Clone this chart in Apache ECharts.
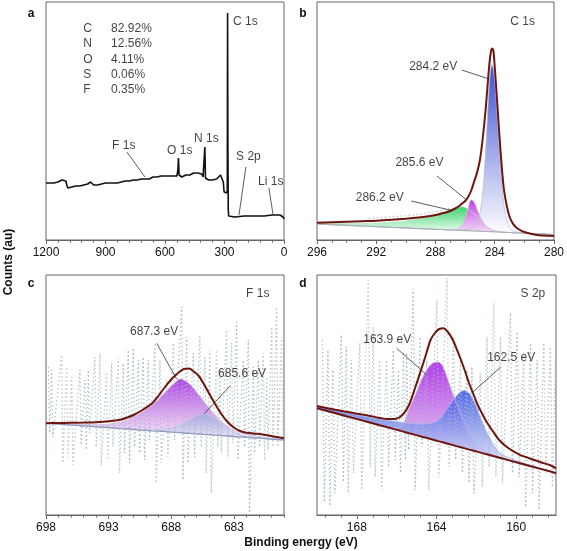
<!DOCTYPE html>
<html><head><meta charset="utf-8">
<script src="https://cdn.jsdelivr.net/npm/echarts@6/dist/echarts.min.js"></script>
<style>html,body{margin:0;padding:0;background:#fff}#c{width:567px;height:551px}</style>
</head><body><div id="c"></div>
<script>
// ---------- Panel a: survey ----------
const aE = [1200,1190,1180,1170,1160,1150,1140,1130,1120,1110,
 1100,1095,1090,1080,1070,1060,1050,1040,1030,1020,
 1010,1000,990,985,980,975,970,960,950,940,
 930,920,910,900,890,880,870,860,850,840,
 830,820,810,800,790,780,770,760,750,740,
 730,720,710,700,690,680,670,660,650,640,
 630,620,610,600,590,580,570,560,550,540,
 535,532,529,525,515,505,495,485,475,465,
 455,445,435,425,415,408,402,399,396,390,
 380,370,360,350,340,330,320,312,306,302,
 296,292,288,286,284.5,283,281,279,270,250,
 200,150,100,60,40,20,10,5,0];
const aCounts = [57,58,57,58,57,58,58,59,60,61,
 59,55,52,52,53,53,54,53,54,54,
 55,55,56,58,57,58,56,55,56,55,
 56,56,56,57,56,57,57,57,58,57,
 58,58,58,59,58,59,59,60,59,60,
 60,61,61,61,62,61,62,63,62,63,
 63,64,63,64,64,64,65,64,65,64,
 70,82,65,64,63,64,65,64,65,66,
 67,66,67,67,66,63,62,93,62,61,
 60,59,60,60,61,63,65,67,58,48,
 46,47,47,50,227,100,30,24,24,23,
 24,24,24,25,25,25,24,23,21];
const aNotes = [['C',1013,211],['82.92%',872,211],['N',1013,196],['12.56%',872,196],
 ['O',1013,180],['4.11%',872,180],['S',1013,165],['0.06%',872,165],['F',1013,150],['0.35%',872,150],
 ['C 1s',257,218],['F 1s',867,94],['O 1s',590,89],['N 1s',454,101],['S 2p',242,83],['Li 1s',131,58]];
const aArrows = [[[792,88],[701,63]],[[192,73],[227,25]],[[76,52],[55,25]]];

// ---------- Panel b: C 1s ----------
const bE = [296,295,294,293,292,291,290,289.5,289,288.5,288,287.6,287.2,286.8,286.4,286.2,286.0,285.8,285.6,285.4,285.2,285.0,284.8,284.6,284.4,284.3,284.2,284.1,284.0,283.9,283.8,283.6,283.4,283.2,283.0,282.8,282.6,282.3,282.0,281.5,281.0,280.5,280];
const bBase = [16.0,15.3,14.7,14.0,13.4,12.7,12.1,11.7,11.4,11.1,10.7,10.5,10.2,10.0,9.7,9.6,9.4,9.3,9.2,9.0,8.9,8.8,8.6,8.5,8.4,8.3,8.3,8.2,8.2,8.1,8.0,7.9,7.7,7.6,7.5,7.3,7.2,7.0,6.8,6.5,6.2,5.8,5.5];
const bBlue = [0,0,0,0,0,0,0,0,0,0,0,0,0,0,0,0.5,1,1.5,2.5,4,8,18,40,85,140,158,167,163,150,130,108,62,30,13,5,2,1,0,0,0,0,0,0];
const bGreen = [1,1.5,2,2.5,3.5,5,7,8.5,10,12,14.5,16.5,19,21.5,23.3,23.7,23,21.5,19.5,17,14.5,11.5,8.5,6,4,3.2,2.5,2,1.5,1.1,0.8,0.4,0.2,0,0,0,0,0,0,0,0,0,0];
const bPink = [0,0,0,0,0,0,0,0,0,0,0,0,0,0.3,2,5,12,22,31,29,22,15,9.5,5.5,3,2.2,1.6,1.2,0.8,0.5,0.3,0.1,0,0,0,0,0,0,0,0,0,0,0];
const bEnv = [17.3,17.8,18.3,18.8,19.3,20.3,21.3,22,22.7,23.8,25,26.5,28,30.5,34,36.5,39,43,49,58,67,80,103,133,170,184,191.5,190,173,152,130,87,53,35,23.3,17,13.3,10,8,6,4.7,4.3,4];
const bRawE = [292.5,292,291.5,291,290.5,290,289.5,289,288.5,288,287.5,287];
const bRaw = [21.5,22,22.5,23,23.8,24.3,25,25.8,27,28.2,30,31.5];
const bNotes = [['C 1s',282.95,218],['284.2 eV',289.78,173],['285.6 eV',290.71,77],['286.2 eV',293.39,42]];
const bArrows = [[[286.23,170],[284.37,161]],[[287.9,64],[285.89,40]],[[289.64,39],[287.03,30]]];

// ---------- Panel c: F 1s ----------
const cE = [698,697,696,695,694,693,692,691.5,691,690.5,690,689.5,689,688.5,688,687.6,687.3,687,686.6,686.2,685.8,685.4,685,684.5,684,683.5,683,682.5,682,681,680,679];
const cBase = [90.7,89.8,88.9,88.1,87.2,86.3,85.4,85.0,84.5,84.1,83.7,83.2,82.8,82.4,81.9,81.6,81.3,81.0,80.7,80.3,80.0,79.6,79.3,78.8,78.4,78.0,77.5,77.1,76.6,75.8,74.9,74.0];
const cEnv = [90.7,91,91.2,91.4,91.8,92.7,94.5,96.5,99,102.5,106.5,111,118.5,127,134.5,139.5,142.5,145,145.5,142.5,138,130,121,110,100,92,86.5,83,81.3,80,78,75.7];
const cPink = [0.3,0.5,0.8,1.2,2,3.5,6.5,9,12.5,16.5,21,26,32,39,46,51,53.7,53,50,45,39,33,27,20,14,9.5,6.5,4.5,3.2,1.7,1,0.6];
const cBlue = [0,0,0,0,0,0,0,0,0,0,0,0.5,1.2,2.5,4,6,7.5,9.5,12.5,16,19,20.2,19.5,16.5,12,7.5,4,2,1,0.2,0,0];
const cRaw = [[697.81,147],[697.71,81],[697.55,144],[697.45,77],[696.75,159],[696.65,51],[696.35,147],[696.25,57],
 [695.95,137],[695.85,49],[695.29,144],[695.19,69],[694.89,134],[694.79,64],[694.62,144],[694.52,81],
 [694.09,157],[693.99,67],[693.69,161],[693.59,49],[693.16,142],[693.06,54],[692.76,151],[692.66,67],
 [692.23,156],[692.13,41],[691.83,151],[691.73,61],[691.43,164],[691.33,51],[691.03,166],[690.93,67],
 [690.63,154],[690.53,61],[690.23,157],[690.13,54],[689.83,154],[689.73,74],[689.30,171],[689.20,31],
 [688.90,154],[688.80,51],[688.37,134],[688.27,57],[687.83,171],[687.73,74],[687.17,207],[687.07,34],
 [686.77,177],[686.67,51],[686.24,161],[686.14,57],[685.71,179],[685.61,67],[685.31,157],[685.21,41],
 [684.91,164],[684.81,21],[684.38,164],[684.28,67],[684.11,144],[684.01,61],[683.58,184],[683.48,57],
 [683.18,171],[683.08,71],[682.78,192],[682.68,54],[682.25,154],[682.15,67],[681.85,174],[681.75,1],
 [681.45,147],[681.35,61],[681.05,154],[680.95,67],[680.65,161],[680.55,54],[680.38,137],[680.28,64],
 [679.98,187],[679.88,67],[679.59,207],[679.49,67],[679.19,177],[679.09,77]];
const cTicks = [683,688,693,698];
const cMinor = [679,680,681,682,684,685,686,687,689,690,691,692,694,695,696,697];
const cNotes = [['F 1s',682.03,220],['687.3 eV',691.29,182],['685.6 eV',684.27,140]];
const cArrows = [[[689.16,170.7],[687.57,135]],[[683.31,128],[685.39,100]]];

// ---------- Panel d: S 2p ----------
const dE = [170,169.07,168.53,167.98,167.44,166.9,166.47,166.03,165.71,165.38,165.06,164.73,164.51,164.3,164.08,163.86,163.65,163.43,163.21,163.0,162.78,162.57,162.35,162.13,161.92,161.7,161.48,161.16,160.83,160.4,159.86,159.31,158.77,158.23,158];
const dBase = [105.7,100.8,97.8,94.9,92.0,89.0,86.7,84.4,82.6,80.8,79.1,77.3,76.2,75.0,73.8,72.6,71.5,70.3,69.1,67.9,66.8,65.6,64.4,63.3,62.1,60.9,59.8,58.0,56.2,53.9,51.0,48.0,45.1,42.2,40.7];
const dEnv = [108,104.2,102.3,100.3,98.5,96.3,94.9,95.3,99,109,127,146.7,160.7,174,181,185,185.7,182,175.2,165.7,154.5,143,130,119,108.5,100,92,82.5,73.5,66,59.7,55.5,51.8,48.3,45.7];
const dPurple = [0,0,0,0,0,0,0.3,1.5,6,24,40,58,67,74,78,79,75,64,53,43,33,24,16,10.5,6.5,4,2.5,1.5,0.7,0.2,0,0,0,0,0];
const dBlue = [2,3,3.5,4,5,6,7,8,9,10,11,12.5,14,16,18,22,28,36,43,50,55.5,58,56,50,41,31,22,12,5,2.5,1.5,1,0.6,0.3,0.2];
const dRaw = [[169.73,174],[169.63,12],[169.45,164],[169.35,8],[169.20,144],[169.10,21],[168.78,179],[168.68,32],
 [168.53,167],[168.43,21],[168.27,154],[168.17,41],[167.85,171],[167.75,24],[167.43,234],[167.33,47],
 [167.18,187],[167.08,37],[166.85,154],[166.75,24],[166.51,154],[166.41,47],[166.17,164],[166.07,54],
 [165.91,144],[165.81,41],[165.66,162],[165.56,54],[165.50,161],[165.40,64],[165.17,225],[165.07,24],
 [164.83,177],[164.73,67],[164.49,154],[164.39,24],[163.98,214],[163.88,37],[163.47,236],[163.37,47],
 [163.14,177],[163.04,54],[162.80,154],[162.70,41],[162.47,144],[162.37,31],[162.22,147],[162.12,21],
 [161.80,141],[161.70,27],[161.46,177],[161.36,47],[161.12,211],[161.02,37],[160.79,177],[160.69,31],
 [160.29,201],[160.19,41],[159.95,182],[159.85,37],[159.62,161],[159.52,7],[159.28,171],[159.18,21],
 [158.95,154],[158.85,4],[158.61,171],[158.51,41],[158.28,167],[158.18,27],[158.03,154],[158.0,47]];
const dTicks = [160,164,168];
const dMinor = [158.4,159.2,160.8,161.6,162.4,163.2,164.8,165.6,166.4,167.2,168.8,169.6];
const dNotes = [['S 2p',159.78,220],['163.9 eV',167.68,174],['162.5 eV',161.46,156]];
const dArrows = [[[166.0,165.7],[164.48,139]],[[160.79,146.7],[162.21,121.3]]];

// ---------- build ----------
const FONT = '"Liberation Sans", Arial, sans-serif';
const AX = '#666';
const ENV = '#6e1510';
const RAW = '#a9bcc1';
const pairs = (xs, ys) => xs.map((x, i) => [x, ys[i]]);
// y first so that the stack is applied to the y (counts) dimension
const ypairs = (xs, ys) => xs.map((x, i) => [ys[i], x]);
const grad = (t, b) => new echarts.graphic.LinearGradient(0, 0, 0, 1, [{offset: 0, color: t}, {offset: 1, color: b}]);

function xAxisBase(grid, min, max) {
  return {type: 'value', gridIndex: grid, min: min, max: max, inverse: true, position: 'bottom',
    axisLine: {show: true, onZero: false, lineStyle: {color: AX, width: 1}},
    axisTick: {show: true, length: 4, lineStyle: {color: AX}},
    axisLabel: {show: true, fontSize: 12, color: '#111', fontFamily: FONT, margin: 7, formatter: v => String(v)},
    splitLine: {show: false}};
}
const xAxes = [];
let ax = xAxisBase(0, 0, 1200); ax.interval = 300; ax.minorTick = {show: true, splitNumber: 5, length: 2.5, lineStyle: {color: AX}}; xAxes.push(ax);
ax = xAxisBase(1, 280, 296); ax.interval = 4; ax.minorTick = {show: true, splitNumber: 4, length: 2.5, lineStyle: {color: AX}}; xAxes.push(ax);
ax = xAxisBase(2, 679, 698); ax.axisLabel.customValues = cTicks; ax.axisTick.customValues = cTicks; xAxes.push(ax);
ax = xAxisBase(3, 158, 170); ax.axisLabel.customValues = dTicks; ax.axisTick.customValues = dTicks; xAxes.push(ax);
ax = xAxisBase(2, 679, 698); ax.axisLine.show = false; ax.axisLabel = {show: false}; ax.axisTick = {show: true, length: 2.5, customValues: cMinor, lineStyle: {color: AX}}; xAxes.push(ax);
ax = xAxisBase(3, 158, 170); ax.axisLine.show = false; ax.axisLabel = {show: false}; ax.axisTick = {show: true, length: 2.5, customValues: dMinor, lineStyle: {color: AX}}; xAxes.push(ax);

const yAxes = [
  {type: 'value', gridIndex: 0, min: 0, max: 238, show: false},
  {type: 'value', gridIndex: 1, min: 0, max: 238, show: false},
  {type: 'value', gridIndex: 2, min: -1, max: 239, show: false},
  {type: 'value', gridIndex: 3, min: -1, max: 239, show: false}
];

const series = [];
function line(p, data, color, width, extra) {
  series.push(Object.assign({type: 'line', xAxisIndex: p, yAxisIndex: p, data: data, symbol: 'none', silent: true,
    lineStyle: {color: color, width: width}}, extra || {}));
}
function raw(p, data) {
  line(p, data, RAW, 1.3, {lineStyle: {color: RAW, width: 1.3, type: [1.2, 2.8]}});
}
function comp(p, E, base, vals, id, top, bot, lc, op) {
  const enc = {x: 1, y: 0};
  series.push({type: 'line', xAxisIndex: p, yAxisIndex: p, data: ypairs(E, base), encode: enc, stack: id,
    symbol: 'none', smooth: 0.3, silent: true, lineStyle: {opacity: 0, width: 0}});
  series.push({type: 'line', xAxisIndex: p, yAxisIndex: p, data: ypairs(E, vals), encode: enc, stack: id,
    symbol: 'none', smooth: 0.3, silent: true,
    lineStyle: {color: lc, width: 0.8}, areaStyle: {color: grad(top, bot), opacity: op == null ? 1 : op}});
}
function notes(p, list, arrows) {
  series.push({type: 'scatter', xAxisIndex: p, yAxisIndex: p, silent: true, symbolSize: 0.1,
    itemStyle: {color: 'rgba(0,0,0,0)'}, z: 10,
    data: list.map(n => [n[1], n[2], n[0]]),
    label: {show: true, position: 'right', distance: 0, formatter: q => q.data[2], fontSize: 12, color: '#111', fontFamily: FONT},
    markLine: {silent: true, animation: false, symbol: ['none', 'arrow'], symbolSize: [0, 7], label: {show: false},
      lineStyle: {color: '#333', width: 0.8, type: 'solid'},
      emphasis: {disabled: true},
      data: arrows.map(a => [{coord: a[0]}, {coord: a[1]}])}
  });
}

// a
line(0, pairs(aE, aCounts), '#111', 1.6);
notes(0, aNotes, aArrows);
// b
raw(1, pairs(bRawE, bRaw));
comp(1, bE, bBase, bBlue, 'bb', '#3d4fd4', '#ffffff', '#b7c2d0', 1);
comp(1, bE, bBase, bGreen, 'bg', '#3bd56b', '#ffffff', '#bfe5c9', 1);
comp(1, bE, bBase, bPink, 'bp', '#c23be0', '#f7e6f8', '#d9b2e4', 1);
line(1, pairs(bE, bBase), '#a7b3b6', 1.2);
line(1, pairs(bE, bEnv), ENV, 2, {smooth: 0.3});
notes(1, bNotes, bArrows);
// c
raw(2, cRaw);
comp(2, cE, cBase, cPink, 'cp', '#b347e6', '#fbeefb', '#c8c0d8', 1);
comp(2, cE, cBase, cBlue, 'cb', '#a3a8e6', '#ece8f8', '#c0c4e0', 0.9);
line(2, pairs(cE, cBase), '#8e98bd', 1.3);
line(2, pairs(cE, cEnv), ENV, 2, {smooth: 0.3});
notes(2, cNotes, cArrows);
// d
raw(3, dRaw);
comp(3, dE, dBase, dPurple, 'dp', '#b23fe8', '#f8e8f8', '#c9b6dc', 1);
comp(3, dE, dBase, dBlue, 'db', '#3550e6', '#eef0fb', '#aab6e6', 0.85);
line(3, pairs(dE, dBase), ENV, 2);
line(3, pairs(dE, dEnv), ENV, 2, {smooth: 0.3});
notes(3, dNotes, dArrows);

const gtext = (t, x, y, rot) => ({type: 'text', x: x, y: y, rotation: rot || 0, silent: true,
  style: {text: t, font: 'bold 12px ' + FONT, fill: '#111', align: 'center', verticalAlign: 'middle'}});

const chart = echarts.init(document.getElementById('c'), null, {renderer: 'canvas'});
chart.setOption({
  animation: false,
  backgroundColor: '#ffffff',
  grid: [
    {left: 46, top: 2, width: 238, height: 238, show: true, borderColor: AX, borderWidth: 1, backgroundColor: 'transparent'},
    {left: 317, top: 2, width: 239, height: 238, show: true, borderColor: AX, borderWidth: 1, backgroundColor: 'transparent'},
    {left: 46, top: 275, width: 238, height: 240, show: true, borderColor: AX, borderWidth: 1, backgroundColor: 'transparent'},
    {left: 317, top: 275, width: 239, height: 240, show: true, borderColor: AX, borderWidth: 1, backgroundColor: 'transparent'}
  ],
  xAxis: xAxes,
  yAxis: yAxes,
  series: series,
  graphic: [
    gtext('a', 31, 14), gtext('b', 303, 14), gtext('c', 31, 284), gtext('d', 303, 284),
    gtext('Counts (au)', 9, 262, Math.PI / 2),
    gtext('Binding energy (eV)', 301, 543)
  ]
});
</script></body></html>
